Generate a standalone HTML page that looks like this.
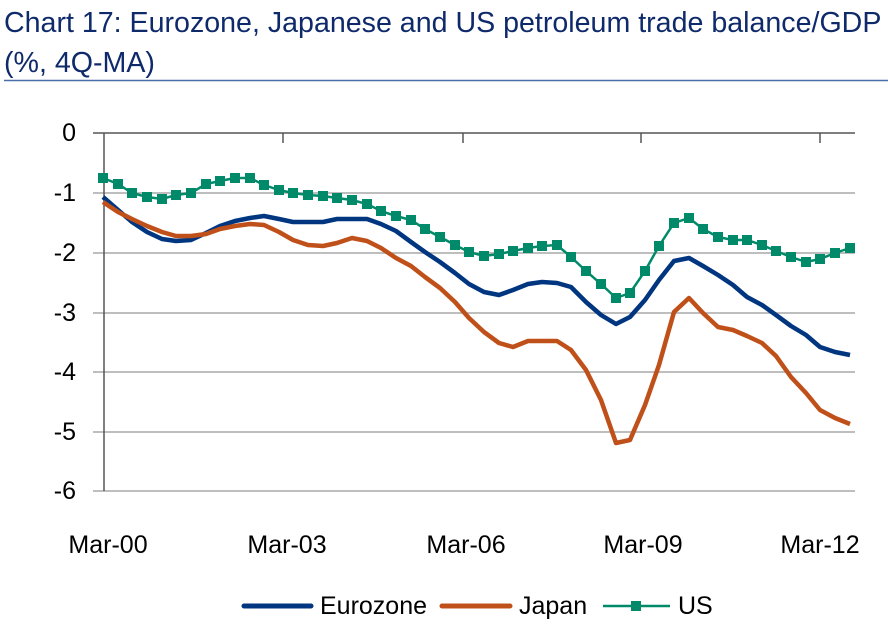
<!DOCTYPE html>
<html><head><meta charset="utf-8"><style>
body{margin:0;background:#fff;}
svg{display:block;font-family:"Liberation Sans",Arial,sans-serif;}
</style></head><body>
<svg width="888" height="624" viewBox="0 0 888 624" xmlns="http://www.w3.org/2000/svg">
<text x="4" y="32" font-size="28.6" fill="#0f2a6b">Chart 17: Eurozone, Japanese and US petroleum trade balance/GDP</text>
<text x="4" y="72" font-size="28.6" fill="#0f2a6b">(%, 4Q-MA)</text>
<line x1="4" y1="80.5" x2="888" y2="80.5" stroke="#4a6fa8" stroke-width="1.5"/>
<g stroke="#a8a8a8" stroke-width="1.5">
<line x1="93" y1="193" x2="855" y2="193"/>
<line x1="93" y1="253" x2="855" y2="253"/>
<line x1="93" y1="313" x2="855" y2="313"/>
<line x1="93" y1="372" x2="855" y2="372"/>
<line x1="93" y1="432" x2="855" y2="432"/>
<line x1="93" y1="491" x2="855" y2="491"/>
</g>
<g stroke="#555" stroke-width="1.5">
<line x1="93" y1="133" x2="855" y2="133"/>
<line x1="104" y1="133" x2="104" y2="491"/>
<line x1="283" y1="133" x2="283" y2="143"/>
<line x1="463" y1="133" x2="463" y2="143"/>
<line x1="641" y1="133" x2="641" y2="143"/>
<line x1="820" y1="133" x2="820" y2="143"/>
</g>
<g font-size="25" fill="#000" text-anchor="end">
<text x="76" y="141">0</text>
<text x="76" y="201">-1</text>
<text x="76" y="261">-2</text>
<text x="76" y="321">-3</text>
<text x="76" y="380">-4</text>
<text x="76" y="440">-5</text>
<text x="76" y="499">-6</text>
</g>
<g font-size="25" fill="#000" text-anchor="middle">
<text x="108" y="553">Mar-00</text>
<text x="287" y="553">Mar-03</text>
<text x="466" y="553">Mar-06</text>
<text x="643" y="553">Mar-09</text>
<text x="820" y="553">Mar-12</text>
</g>
<polyline fill="none" stroke="#003580" stroke-width="4.5" stroke-linejoin="round" points="103,197 118,210 132,222 147,232 162,239 176,241 191,240 206,233 220,226 235,221 250,218 264,216 279,219 293,222 308,222 323,222 337,219 352,219 367,219 381,224 396,231 411,242 425,252 440,262 455,273 469,284 484,292 499,295 513,290 528,284 542,282 557,283 571,287 586,302 601,315 616,324 630,317 645,300 659,280 674,261 689,258 703,266 718,275 733,285 747,297 762,305 776,315 791,326 806,335 820,347 835,352 850,355"/>
<polyline fill="none" stroke="#c0501a" stroke-width="4.5" stroke-linejoin="round" points="103,202 118,212 132,219 147,226 162,232 176,236 191,236 206,234 220,229 235,226 250,224 264,225 279,232 293,240 308,245 323,246 337,243 352,238 367,241 381,248 396,258 411,266 425,277 440,288 455,302 469,318 484,332 499,343 513,347 528,341 542,341 557,341 571,350 586,370 601,400 616,443 630,440 645,405 659,365 674,312 689,298 703,313 718,327 733,330 747,336 762,343 776,356 791,377 806,393 820,410 835,418 850,424"/>
<polyline fill="none" stroke="#008a6a" stroke-width="2.5" points="103,178 118,184 132,193 147,197 162,199 176,195 191,193 206,184 220,181 235,178 250,178 264,185 279,190 293,193 308,195 323,196 337,198 352,200 367,204 381,211 396,216 411,220 425,229 440,237 455,245 469,252 484,256 499,254 513,251 528,248 542,246 557,245 571,257 586,271 601,284 616,298 630,293 645,271 659,246 674,223 689,218 703,229 718,237 733,240 747,240 762,245 776,251 791,257 806,262 820,259 835,253 850,248"/>
<g fill="#008a6a">
<rect x="98" y="173" width="10" height="10"/><rect x="113" y="179" width="10" height="10"/><rect x="127" y="188" width="10" height="10"/><rect x="142" y="192" width="10" height="10"/><rect x="157" y="194" width="10" height="10"/><rect x="171" y="190" width="10" height="10"/><rect x="186" y="188" width="10" height="10"/><rect x="201" y="179" width="10" height="10"/><rect x="215" y="176" width="10" height="10"/><rect x="230" y="173" width="10" height="10"/><rect x="245" y="173" width="10" height="10"/><rect x="259" y="180" width="10" height="10"/><rect x="274" y="185" width="10" height="10"/><rect x="288" y="188" width="10" height="10"/><rect x="303" y="190" width="10" height="10"/><rect x="318" y="191" width="10" height="10"/><rect x="332" y="193" width="10" height="10"/><rect x="347" y="195" width="10" height="10"/><rect x="362" y="199" width="10" height="10"/><rect x="376" y="206" width="10" height="10"/><rect x="391" y="211" width="10" height="10"/><rect x="406" y="215" width="10" height="10"/><rect x="420" y="224" width="10" height="10"/><rect x="435" y="232" width="10" height="10"/><rect x="450" y="240" width="10" height="10"/><rect x="464" y="247" width="10" height="10"/><rect x="479" y="251" width="10" height="10"/><rect x="494" y="249" width="10" height="10"/><rect x="508" y="246" width="10" height="10"/><rect x="523" y="243" width="10" height="10"/><rect x="537" y="241" width="10" height="10"/><rect x="552" y="240" width="10" height="10"/><rect x="566" y="252" width="10" height="10"/><rect x="581" y="266" width="10" height="10"/><rect x="596" y="279" width="10" height="10"/><rect x="611" y="293" width="10" height="10"/><rect x="625" y="288" width="10" height="10"/><rect x="640" y="266" width="10" height="10"/><rect x="654" y="241" width="10" height="10"/><rect x="669" y="218" width="10" height="10"/><rect x="684" y="213" width="10" height="10"/><rect x="698" y="224" width="10" height="10"/><rect x="713" y="232" width="10" height="10"/><rect x="728" y="235" width="10" height="10"/><rect x="742" y="235" width="10" height="10"/><rect x="757" y="240" width="10" height="10"/><rect x="771" y="246" width="10" height="10"/><rect x="786" y="252" width="10" height="10"/><rect x="801" y="257" width="10" height="10"/><rect x="815" y="254" width="10" height="10"/><rect x="830" y="248" width="10" height="10"/><rect x="845" y="243" width="10" height="10"/>
</g>
<line x1="244" y1="606" x2="311" y2="606" stroke="#003580" stroke-width="5" stroke-linecap="round"/>
<text x="320" y="614" font-size="25">Eurozone</text>
<line x1="442" y1="606" x2="510" y2="606" stroke="#c0501a" stroke-width="5" stroke-linecap="round"/>
<text x="519" y="614" font-size="25">Japan</text>
<line x1="603" y1="606" x2="670" y2="606" stroke="#008a6a" stroke-width="2.5"/>
<rect x="631" y="601" width="10" height="10" fill="#008a6a"/>
<text x="678" y="614" font-size="25">US</text>
</svg>
</body></html>
